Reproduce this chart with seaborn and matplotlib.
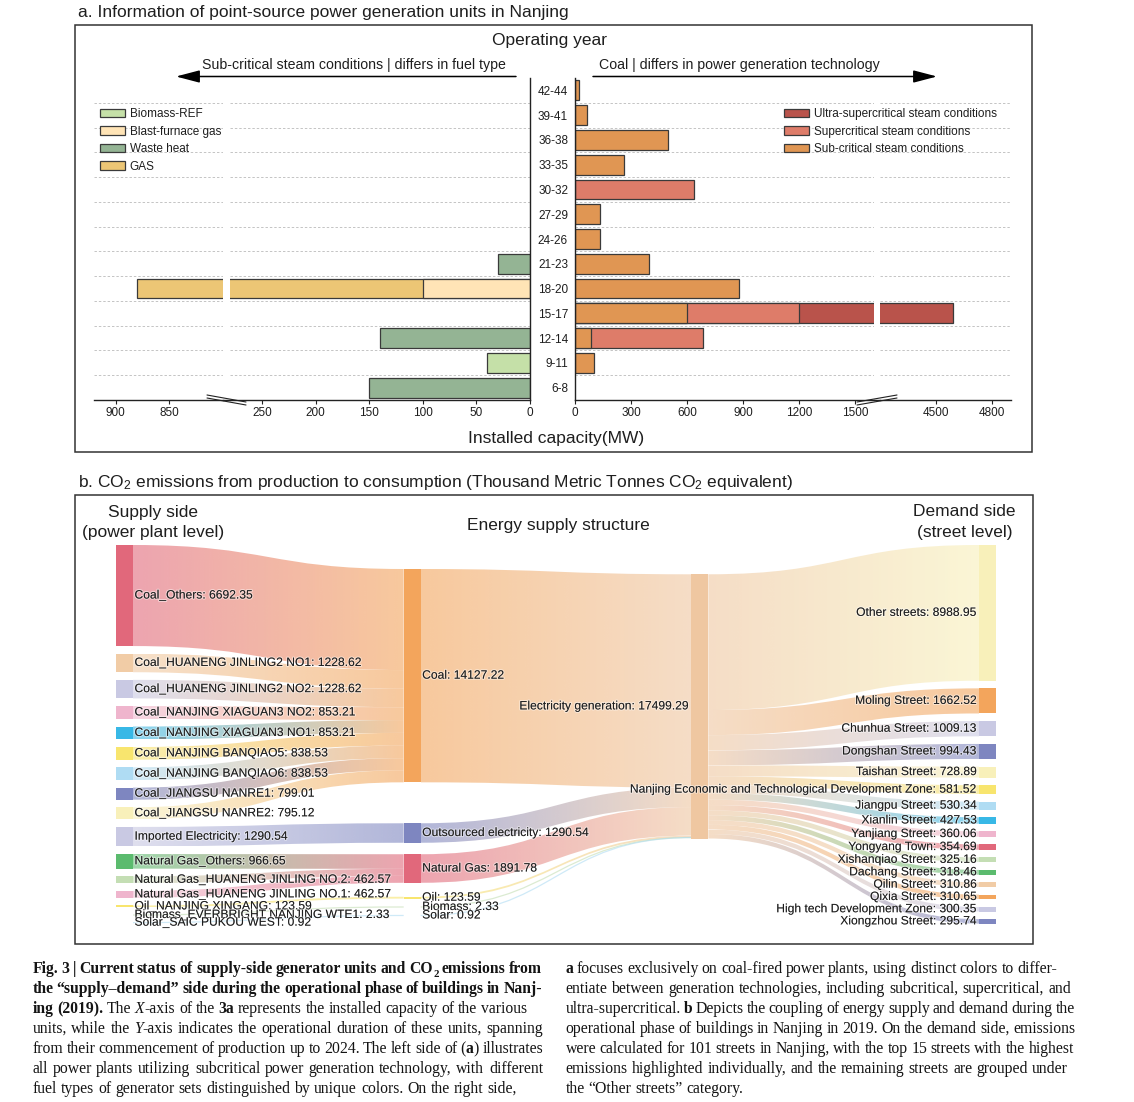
import re
import numpy as np
import pandas as pd
import matplotlib
matplotlib.use("Agg")
import matplotlib.pyplot as plt
import seaborn as sns
from matplotlib.patches import Rectangle, Patch, PathPatch, FancyArrowPatch
from matplotlib.path import Path
from matplotlib.lines import Line2D
import matplotlib.patheffects as pe
import matplotlib.colors as mcolors

# ---------------- data: panel a ----------------
PERIODS = ["42-44", "39-41", "36-38", "33-35", "30-32", "27-29", "24-26",
           "21-23", "18-20", "15-17", "12-14", "9-11", "6-8"]
# left side (sub-critical, by fuel type), MW
BIOMASS_REF   = [0, 0, 0, 0, 0, 0, 0, 0, 0, 0, 0, 40, 0]
BLAST_FURNACE = [0, 0, 0, 0, 0, 0, 0, 0, 100, 0, 0, 0, 0]
WASTE_HEAT    = [0, 0, 0, 0, 0, 0, 0, 30, 0, 0, 140, 0, 150]
GAS           = [0, 0, 0, 0, 0, 0, 0, 0, 780, 0, 0, 0, 0]
# right side (coal, by technology), MW
SUB_CRITICAL   = [20, 65, 500, 260, 0, 135, 135, 395, 880, 600, 85, 100, 0]
SUPERCRITICAL  = [0, 0, 0, 0, 640, 0, 0, 0, 0, 600, 600, 0, 0]
ULTRA_SUPER    = [0, 0, 0, 0, 0, 0, 0, 0, 0, 3390, 0, 0, 0]

LEFT_TICKS_HI = [900, 850]
LEFT_TICKS_LO = [250, 200, 150, 100, 50, 0]
RIGHT_TICKS_LO = [0, 300, 600, 900, 1200, 1500]
RIGHT_TICKS_HI = [4500, 4800]

# ---------------- data: panel b (sankey) ----------------
SUPPLY_NAMES = ["Coal_Others", "Coal_HUANENG JINLING2 NO1", "Coal_HUANENG JINLING2 NO2",
                "Coal_NANJING XIAGUAN3 NO2", "Coal_NANJING XIAGUAN3 NO1", "Coal_NANJING BANQIAO5",
                "Coal_NANJING BANQIAO6", "Coal_JIANGSU NANRE1", "Coal_JIANGSU NANRE2",
                "Imported Electricity", "Natural Gas_Others", "Natural Gas_HUANENG JINLING NO.2",
                "Natural Gas_HUANENG JINLING NO.1", "Oil_NANJING XINGANG",
                "Biomass_EVERBRIGHT NANJING WTE1", "Solar_SAIC PUKOU WEST"]
SUPPLY_VALUES = [6692.35, 1228.62, 1228.62, 853.21, 853.21, 838.53, 838.53, 799.01, 795.12,
                 1290.54, 966.65, 462.57, 462.57, 123.59, 2.33, 0.92]
SUPPLY_TO = ["Coal"] * 9 + ["Outsourced electricity"] + ["Natural Gas"] * 3 + ["Oil", "Biomass", "Solar"]
STRUCT_NAMES = ["Coal", "Outsourced electricity", "Natural Gas", "Oil", "Biomass", "Solar"]
STRUCT_VALUES = [14127.22, 1290.54, 1891.78, 123.59, 2.33, 0.92]
GEN_NAME = "Electricity generation"
GEN_VALUE = 17499.29
DEMAND_NAMES = ["Other streets", "Moling Street", "Chunhua Street", "Dongshan Street",
                "Taishan Street", "Nanjing Economic and Technological Development Zone",
                "Jiangpu Street", "Xianlin Street", "Yanjiang Street", "Yongyang Town",
                "Xishanqiao Street", "Dachang Street", "Qilin Street", "Qixia Street",
                "High tech Development Zone", "Xiongzhou Street"]
DEMAND_VALUES = [8988.95, 1662.52, 1009.13, 994.43, 728.89, 581.52, 530.34, 427.53, 360.06,
                 354.69, 325.16, 318.46, 310.86, 310.65, 300.35, 295.74]

# ---------------- styles ----------------
C_BIOMASS, C_BLAST, C_WASTE, C_GAS = "#c5e0a8", "#ffe4b6", "#94b494", "#ecc675"
C_ULTRA, C_SUPER, C_SUB = "#b9534b", "#de7c69", "#e09653"
EDGE = "#3a3a3a"

ROSE, TAN, LAV, PINK, CYAN = "#e1687b", "#f1cca6", "#c9c9e3", "#efb5cd", "#38b8e6"
YEL, LBLUE, SLATE, PYEL, GREEN, LGREEN, ORANGE = ("#f8e56e", "#afdcf3", "#7e86c0", "#f8f0ba",
                                                   "#5bbb6e", "#c4deb4", "#f3a55c")
SUPPLY_COLORS = [ROSE, TAN, LAV, PINK, CYAN, YEL, LBLUE, SLATE, PYEL, LAV, GREEN, LGREEN, PINK,
                 YEL, LGREEN, LBLUE]
STRUCT_COLORS = [ORANGE, SLATE, ROSE, YEL, LGREEN, LBLUE]
GEN_COLOR = "#efc7a1"
DEMAND_COLORS = [PYEL, ORANGE, LAV, SLATE, PYEL, YEL, LBLUE, CYAN, PINK, ROSE, LGREEN, GREEN,
                 TAN, ORANGE, LAV, SLATE]

W, H = 1134, 1102


def fx(x):
    return x / W


def fy(y):
    return 1 - y / H


sns.set_theme(style="white")
plt.rcParams["font.family"] = ["Liberation Sans", "DejaVu Sans"]
plt.rcParams["mathtext.fontset"] = "custom"
plt.rcParams["mathtext.rm"] = "Liberation Sans"
plt.rcParams["mathtext.it"] = "Liberation Sans:italic"
plt.rcParams["mathtext.bf"] = "Liberation Sans:bold"

fig = plt.figure(figsize=(W / 100, H / 100), dpi=100)
fig.patch.set_facecolor("white")
TXT = "#1e1e1e"

# ======================= panel a =======================
AX_TOP, AX_BOT = 78, 400


def add_ax(x0, x1):
    return fig.add_axes([fx(x0), fy(AX_BOT), (x1 - x0) / W, (AX_BOT - AX_TOP) / H])


axL1 = add_ax(94, 223)
axL2 = add_ax(230, 530)
axR1 = add_ax(575, 873.7)
axR2 = add_ax(880, 1011)
left_axes, right_axes = [axL1, axL2], [axR1, axR2]


def draw_layers(axes, layers):
    cum = np.zeros(len(PERIODS))
    stacked = []
    for vals, col in layers:
        vals = np.asarray(vals, float)
        cum = cum + vals
        stacked.append((vals, cum.copy(), col))
    for vals, c, col in reversed(stacked):
        mask = vals > 0
        df = pd.DataFrame({"period": np.array(PERIODS)[mask], "mw": c[mask]})
        for ax in axes:
            sns.barplot(data=df, x="mw", y="period", order=PERIODS, orient="h", color=col,
                        saturation=1, edgecolor=EDGE, linewidth=0.9, width=0.8,
                        errorbar=None, ax=ax, zorder=2)


draw_layers(left_axes, [(BIOMASS_REF, C_BIOMASS), (BLAST_FURNACE, C_BLAST),
                        (WASTE_HEAT, C_WASTE), (GAS, C_GAS)])
draw_layers(right_axes, [(SUB_CRITICAL, C_SUB), (SUPERCRITICAL, C_SUPER),
                         (ULTRA_SUPER, C_ULTRA)])

axL1.set_xlim(920, 800)
axL2.set_xlim(280, 0)
axR1.set_xlim(0, 1600)
axR2.set_xlim(4200, 4200 + 131 / 0.18669)
axL1.set_xticks(LEFT_TICKS_HI)
axL2.set_xticks(LEFT_TICKS_LO)
axR1.set_xticks(RIGHT_TICKS_LO)
axR2.set_xticks(RIGHT_TICKS_HI)

for ax in left_axes + right_axes:
    ax.set_ylim(len(PERIODS) - 0.5, -0.5)
    ax.set_xlabel("")
    ax.set_ylabel("")
    ax.set_facecolor("none")
    for s in ax.spines.values():
        s.set_visible(False)
        s.set_color("#222222")
        s.set_linewidth(1.0)
    ax.spines["bottom"].set_visible(True)
    ax.tick_params(axis="x", bottom=True, length=3, width=0.8, color="#222222",
                   labelsize=8.5, labelcolor=TXT, pad=2, direction="out")
    ax.set_yticks([])
    for k in range(len(PERIODS) - 1):
        ax.axhline(k + 0.5, color="#c4c4c4", lw=0.7, ls=(0, (2.5, 2)), zorder=0.5)

axL2.spines["right"].set_visible(True)
axR1.spines["left"].set_visible(True)
axR1.set_yticks(range(len(PERIODS)))
axR1.set_yticklabels(PERIODS)
axR1.tick_params(axis="y", left=False, length=0, pad=5, labelsize=8.5, labelcolor=TXT)

# continuity of the broken axis line + break marks
for (a, b) in [(223, 230), (873.7, 880)]:
    fig.add_artist(Line2D([fx(a), fx(b)], [fy(AX_BOT), fy(AX_BOT)], transform=fig.transFigure,
                          color="#222222", lw=1.0))
for dy in (-1.5, 1.5):
    fig.add_artist(Line2D([fx(207), fx(246)], [fy(396.5 + dy), fy(403.5 + dy)],
                          transform=fig.transFigure, color="#222222", lw=0.8))
    fig.add_artist(Line2D([fx(857), fx(897)], [fy(403.5 + dy), fy(396.5 + dy)],
                          transform=fig.transFigure, color="#222222", lw=0.8))

# texts and arrows
fig.text(fx(78), fy(13), "a. Information of point-source power generation units in Nanjing",
         ha="left", va="center", fontsize=12.5, color=TXT)
fig.text(fx(549), fy(40), "Operating year", ha="center", va="center", fontsize=12.5, color=TXT)
fig.text(fx(354), fy(65), "Sub-critical steam conditions | differs in fuel type",
         ha="center", va="center", fontsize=10.2, color=TXT)
fig.text(fx(739), fy(65), "Coal | differs in power generation technology",
         ha="center", va="center", fontsize=10.2, color=TXT)
fig.text(fx(556), fy(439), "Installed capacity(MW)", ha="center", va="center",
         fontsize=12.5, color=TXT)
for (a, b) in [(516, 176), (593, 937)]:
    fig.add_artist(FancyArrowPatch((fx(a), fy(76.5)), (fx(b), fy(76.5)),
                                   transform=fig.transFigure,
                                   arrowstyle="-|>,head_length=1.45,head_width=0.38",
                                   mutation_scale=10, lw=1.1, color="black",
                                   shrinkA=0, shrinkB=0))

leg_kw = dict(loc="upper left", bbox_transform=fig.transFigure, frameon=False, fontsize=8.5,
              handlelength=2.1, handleheight=0.75, handletextpad=0.42, labelspacing=0.47,
              borderpad=0, borderaxespad=0, labelcolor=TXT)
fig.legend([Patch(fc=c, ec=EDGE, lw=0.9) for c in (C_BIOMASS, C_BLAST, C_WASTE, C_GAS)],
           ["Biomass-REF", "Blast-furnace gas", "Waste heat", "GAS"],
           bbox_to_anchor=(fx(100), fy(108)), **leg_kw)
fig.legend([Patch(fc=c, ec=EDGE, lw=0.9) for c in (C_ULTRA, C_SUPER, C_SUB)],
           ["Ultra-supercritical steam conditions", "Supercritical steam conditions",
            "Sub-critical steam conditions"],
           bbox_to_anchor=(fx(784), fy(108)), **leg_kw)

# ======================= panel b (sankey) =======================
fig.text(fx(78), fy(482),
         "b. CO$_2$ emissions from production to consumption (Thousand Metric Tonnes CO$_2$ equivalent)",
         ha="left", va="center", fontsize=12.5, color=TXT)
fig.text(fx(153), fy(512), "Supply side", ha="center", va="center", fontsize=12.5, color=TXT)
fig.text(fx(153), fy(533), "(power plant level)", ha="center", va="center", fontsize=12.5, color=TXT)
fig.text(fx(558), fy(526), "Energy supply structure", ha="center", va="center", fontsize=12.5, color=TXT)
fig.text(fx(964.5), fy(512), "Demand side", ha="center", va="center", fontsize=12.5, color=TXT)
fig.text(fx(964.5), fy(533), "(street level)", ha="center", va="center", fontsize=12.5, color=TXT)

NODE_PAD = 505.0
COL_PX = 287.67
NODE_W = 17 / COL_PX
STRUCT_TOPS = [1590, 18430, 20480, 23296, 23973, 24536]
GEN_TOP = 1940
LINK_ALPHA = 0.6

ax_s = fig.add_axes([fx(116), fy(923.6), (3 * COL_PX + 17) / W, 378.6 / H])
ax_s.axis("off")
YSPAN = sum(DEMAND_VALUES) + (len(DEMAND_VALUES) - 1) * NODE_PAD


def stack(values):
    tops, y = [], 0.0
    for v in values:
        tops.append(y)
        y += v + NODE_PAD
    return tops


supply_tops = stack(SUPPLY_VALUES)
demand_tops = stack(DEMAND_VALUES)
px_per_unit = 378.6 / YSPAN


def draw_link(x0, x1, s_top, t_top, v, c0, c1):
    s_bot, t_bot = s_top + v, t_top + v
    xm = (x0 + x1) / 2
    verts = [(x0, s_top), (xm, s_top), (xm, t_top), (x1, t_top), (x1, t_bot),
             (xm, t_bot), (xm, s_bot), (x0, s_bot), (x0, s_top)]
    codes = [Path.MOVETO, Path.CURVE4, Path.CURVE4, Path.CURVE4, Path.LINETO,
             Path.CURVE4, Path.CURVE4, Path.CURVE4, Path.CLOSEPOLY]
    a0, a1 = np.array(mcolors.to_rgb(c0)), np.array(mcolors.to_rgb(c1))
    t = np.linspace(0, 1, 96)[:, None]
    rgb = a0 * (1 - t) + a1 * t
    img = np.concatenate([rgb, np.full((len(t), 1), LINK_ALPHA)], axis=1)[None, :, :]
    if v * px_per_unit < 1.2:
        mid0, mid1 = s_top + v / 2, t_top + v / 2
        cpath = Path([(x0, mid0), (xm, mid0), (xm, mid1), (x1, mid1)],
                     [Path.MOVETO, Path.CURVE4, Path.CURVE4, Path.CURVE4])
        ax_s.add_patch(PathPatch(cpath, fc="none", ec=c0, lw=0.9, alpha=LINK_ALPHA, zorder=1))
        return
    patch = PathPatch(Path(verts, codes), fc="none", ec="none", transform=ax_s.transData)
    ax_s.add_patch(patch)
    im = ax_s.imshow(img, extent=(x0, x1, max(s_bot, t_bot), min(s_top, t_top)),
                     aspect="auto", interpolation="bilinear", zorder=1)
    im.set_clip_path(patch)


# supply -> structure
struct_off = {n: t for n, t in zip(STRUCT_NAMES, STRUCT_TOPS)}
struct_col = dict(zip(STRUCT_NAMES, STRUCT_COLORS))
for name, v, tgt, top, col in zip(SUPPLY_NAMES, SUPPLY_VALUES, SUPPLY_TO, supply_tops, SUPPLY_COLORS):
    draw_link(NODE_W, 1, top, struct_off[tgt], v, col, struct_col[tgt])
    struct_off[tgt] += v
# structure -> generation
g_in = GEN_TOP
for v, top, col in zip(STRUCT_VALUES, STRUCT_TOPS, STRUCT_COLORS):
    draw_link(1 + NODE_W, 2, top, g_in, v, col, GEN_COLOR)
    g_in += v
# generation -> demand
g_out = GEN_TOP
for v, top, col in zip(DEMAND_VALUES, demand_tops, DEMAND_COLORS):
    draw_link(2 + NODE_W, 3, g_out, top, v, GEN_COLOR, col)
    g_out += v

label_fx = [pe.withStroke(linewidth=1.6, foreground=(1, 1, 1, 0.45))]
DX = 1.5 / COL_PX


def draw_node(col, top, v, color, name):
    ax_s.add_patch(Rectangle((col, top), NODE_W, v, fc=color, ec="none", zorder=3))
    label = f"{name}: {v:.2f}"
    if col < 1.5:
        ax_s.text(col + NODE_W + DX, top + v / 2, label, ha="left", va="center",
                  fontsize=8.7, color=TXT, zorder=5, path_effects=label_fx)
    else:
        ax_s.text(col - DX, top + v / 2, label, ha="right", va="center",
                  fontsize=8.7, color=TXT, zorder=5, path_effects=label_fx)


for name, v, top, c in zip(SUPPLY_NAMES, SUPPLY_VALUES, supply_tops, SUPPLY_COLORS):
    draw_node(0, top, v, c, name)
for name, v, top, c in zip(STRUCT_NAMES, STRUCT_VALUES, STRUCT_TOPS, STRUCT_COLORS):
    draw_node(1, top, v, c, name)
draw_node(2, GEN_TOP, GEN_VALUE, GEN_COLOR, GEN_NAME)
for name, v, top, c in zip(DEMAND_NAMES, DEMAND_VALUES, demand_tops, DEMAND_COLORS):
    draw_node(3, top, v, c, name)

ax_s.set_xlim(0, 3 + NODE_W)
ax_s.set_ylim(YSPAN, 0)

# panel frames
for (x0, y0, x1, y1) in [(75, 25, 1032, 452), (75, 495, 1033, 944)]:
    fig.add_artist(Rectangle((fx(x0), fy(y1)), (x1 - x0) / W, (y1 - y0) / H,
                             transform=fig.transFigure, fill=False, lw=1.1, ec="#333333"))

# ======================= caption =======================
CAP_LEFT = [
    "<b>Fig. 3 | Current status of supply-side generator units and CO<s>2</s> emissions from</b>",
    "<b>the \u201csupply\u2013demand\u201d side during the operational phase of buildings in Nanj-</b>",
    "<b>ing (2019).</b> The <i>X</i>-axis of the <b>3a</b> represents the installed capacity of the various",
    "units, while the <i>Y</i>-axis indicates the operational duration of these units, spanning",
    "from their commencement of production up to 2024. The left side of (<b>a</b>) illustrates",
    "all power plants utilizing subcritical power generation technology, with different",
    "fuel types of generator sets distinguished by unique colors. On the right side,",
]
CAP_RIGHT = [
    "<b>a</b> focuses exclusively on coal-fired power plants, using distinct colors to differ-",
    "entiate between generation technologies, including subcritical, supercritical, and",
    "ultra-supercritical. <b>b</b> Depicts the coupling of energy supply and demand during the",
    "operational phase of buildings in Nanjing in 2019. On the demand side, emissions",
    "were calculated for 101 streets in Nanjing, with the top 15 streets with the highest",
    "emissions highlighted individually, and the remaining streets are grouped under",
    "the \u201cOther streets\u201d category.",
]
# right edge of each caption line (None = ragged last line)
CAP_LEFT_END = [541, 542, 527, 543, 543, 543, 517]
CAP_RIGHT_END = [1057, 1071, 1075, 1075, 1074, 1068, None]
CAP_FONT = ["Liberation Serif", "DejaVu Serif"]
renderer = fig.canvas.get_renderer()


def parse(line):
    runs, b, i, s = [], False, False, False
    for tok in re.split(r"(</?[bis]>)", line):
        if tok in ("<b>", "</b>"):
            b = tok == "<b>"
        elif tok in ("<i>", "</i>"):
            i = tok == "<i>"
        elif tok in ("<s>", "</s>"):
            s = tok == "<s>"
        elif tok:
            runs.append((tok, b, i, s))
    words = [[]]
    for text, b, i, s in runs:
        for k, p in enumerate(text.split(" ")):
            if k > 0:
                words.append([])
            if p:
                words[-1].append((p, b, i, s))
    return [w for w in words if w]


def make_words(line, size):
    out = []
    for w in parse(line):
        parts = []
        for (t, b, i, s) in w:
            tx = fig.text(0, 0, t, family=CAP_FONT, fontsize=size * (0.68 if s else 1.0),
                          fontweight="bold" if b else "normal",
                          fontstyle="italic" if i else "normal",
                          va="baseline", ha="left", color="#141414")
            parts.append((tx, tx.get_window_extent(renderer).width, s))
        out.append(parts)
    return out


CAP_SIZE = 11.35
space_px = 0.25 * CAP_SIZE * 100 / 72
for lines, ends, x0 in [(CAP_LEFT, CAP_LEFT_END, 32.5), (CAP_RIGHT, CAP_RIGHT_END, 565.5)]:
    for li, (line, end) in enumerate(zip(lines, ends)):
        y = 973 + 20 * li
        words = make_words(line, CAP_SIZE)
        total = sum(wd for parts in words for _, wd, _ in parts)
        gap = space_px
        if end is not None and len(words) > 1:
            gap = max(0.55 * space_px, (end - x0 - total) / (len(words) - 1))
        x = x0
        for parts in words:
            for tx, wd, s in parts:
                tx.set_position((fx(x + (0.6 if s else 0)), fy(y + (3.8 if s else 0))))
                x += wd + (0.6 if s else 0)
            x += gap

fig.savefig("out.png", dpi=100)
